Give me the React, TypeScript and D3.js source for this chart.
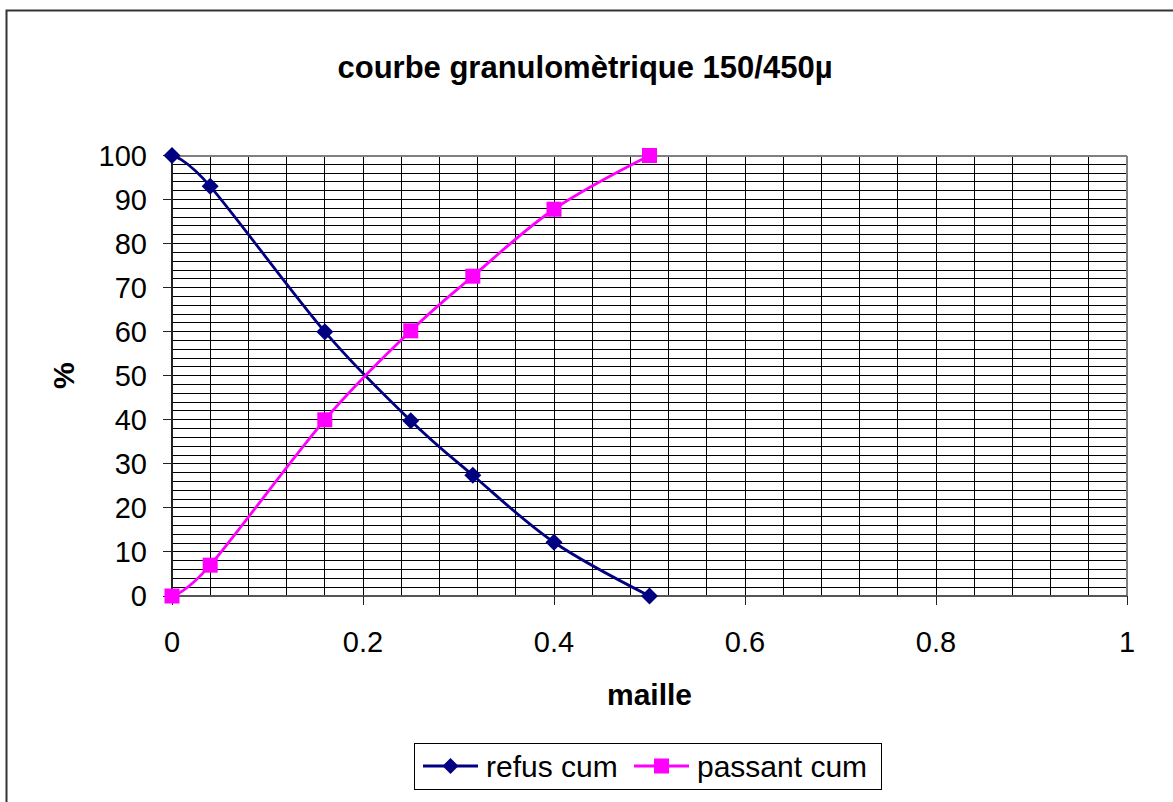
import * as d3 from 'd3';

// maille (x) and cumulative percentages
const maille = [0, 0.04, 0.16, 0.25, 0.315, 0.4, 0.5];
const refusCum = [100, 93, 60, 39.8, 27.4, 12.2, 0];
const passantCum = [0, 7, 40, 60.2, 72.6, 87.8, 100];

const xTicks = [0, 0.2, 0.4, 0.6, 0.8, 1];
const yTicks = [0, 10, 20, 30, 40, 50, 60, 70, 80, 90, 100];

const W = 1173;
const H = 802;
const plot = { left: 172, right: 1127, top: 155.5, bottom: 596 };
const font = 'Arial, "Liberation Sans", sans-serif';

export default function App() {
  const x = d3.scaleLinear().domain([0, 1]).range([plot.left, plot.right]);
  const y = d3.scaleLinear().domain([0, 100]).range([plot.bottom, plot.top]);

  // gridlines: every 0.04 horizontally, every 2 % vertically
  const xGrid = d3.range(1, 25).map(i => i * 0.04);
  const yGrid = d3.range(1, 50).map(i => i * 2);

  const line = d3.line<[number, number]>()
    .x(d => x(d[0]))
    .y(d => y(d[1]))
    .curve(d3.curveCardinal.tension(0));

  const refusPts = maille.map((m, i) => [m, refusCum[i]] as [number, number]);
  const passantPts = maille.map((m, i) => [m, passantCum[i]] as [number, number]);

  const diamond = (cx: number, cy: number, r: number) =>
    `M${cx},${cy - r}L${cx + r},${cy}L${cx},${cy + r}L${cx - r},${cy}Z`;

  return (
    <svg width={W} height={H} style={{ position: 'absolute', left: 0, top: 0, background: '#fff' }}
      fontFamily={font}>
      <rect x={6.5} y={10.5} width={W + 10} height={H + 10} fill="#fff" stroke="#333" strokeWidth={2} />

      <text x={585} y={78} textAnchor="middle" fontSize={31} fontWeight="bold">
        courbe granulomètrique 150/450µ
      </text>

      <g shapeRendering="crispEdges">
        {xGrid.map(v => (
          <line key={'gx' + v} x1={x(v)} x2={x(v)} y1={plot.top} y2={plot.bottom} stroke="#000" strokeWidth={1} />
        ))}
        {yGrid.map(v => (
          <line key={'gy' + v} x1={plot.left} x2={plot.right} y1={y(v)} y2={y(v)} stroke="#000" strokeWidth={1} />
        ))}
        <line x1={plot.left} x2={plot.right} y1={plot.top} y2={plot.top} stroke="#808080" strokeWidth={2} />
        <line x1={plot.right} x2={plot.right} y1={plot.top} y2={plot.bottom} stroke="#808080" strokeWidth={2} />
        <line x1={plot.left} x2={plot.right} y1={plot.bottom} y2={plot.bottom} stroke="#555" strokeWidth={2} />
        <line x1={plot.left} x2={plot.left} y1={plot.top} y2={plot.bottom} stroke="#222" strokeWidth={2} />
        {yTicks.map(v => (
          <line key={'ty' + v} x1={plot.left - 9} x2={plot.left} y1={y(v)} y2={y(v)} stroke="#222" strokeWidth={1} />
        ))}
        {xTicks.map(v => (
          <line key={'tx' + v} x1={x(v)} x2={x(v)} y1={plot.bottom} y2={plot.bottom + 9} stroke="#222" strokeWidth={1} />
        ))}
      </g>

      {yTicks.map(v => (
        <text key={'ly' + v} x={147} y={y(v)} dy="0.36em" textAnchor="end" fontSize={29}>{v}</text>
      ))}
      {xTicks.map(v => (
        <text key={'lx' + v} x={x(v)} y={652} textAnchor="middle" fontSize={29}>{v}</text>
      ))}

      <text x={(plot.left + plot.right) / 2} y={705} textAnchor="middle" fontSize={30} fontWeight="bold">maille</text>
      <text transform={`translate(74,${(plot.top + plot.bottom) / 2}) rotate(-90)`} textAnchor="middle"
        fontSize={30} fontWeight="bold">%</text>

      <path d={line(refusPts) ?? ''} fill="none" stroke="#000080" strokeWidth={2.8} />
      <path d={line(passantPts) ?? ''} fill="none" stroke="#FF00FF" strokeWidth={2.8} />
      {refusPts.map((p, i) => (
        <path key={'dr' + i} d={diamond(x(p[0]), y(p[1]), 8.5)} fill="#000080" />
      ))}
      {passantPts.map((p, i) => (
        <rect key={'sp' + i} x={x(p[0]) - 7.5} y={y(p[1]) - 7.5} width={15} height={15} fill="#FF00FF" />
      ))}

      <g>
        <rect x={414.5} y={743.5} width={467} height={46} fill="#fff" stroke="#000" strokeWidth={1} />
        <line x1={423} x2={478} y1={766} y2={766} stroke="#000080" strokeWidth={2.8} />
        <path d={diamond(450.5, 766, 8)} fill="#000080" />
        <text x={486} y={777} fontSize={30}>refus cum</text>
        <line x1={634} x2={689} y1={766} y2={766} stroke="#FF00FF" strokeWidth={2.8} />
        <rect x={654} y={758.5} width={15} height={15} fill="#FF00FF" />
        <text x={697} y={777} fontSize={30}>passant cum</text>
      </g>
    </svg>
  );
}
